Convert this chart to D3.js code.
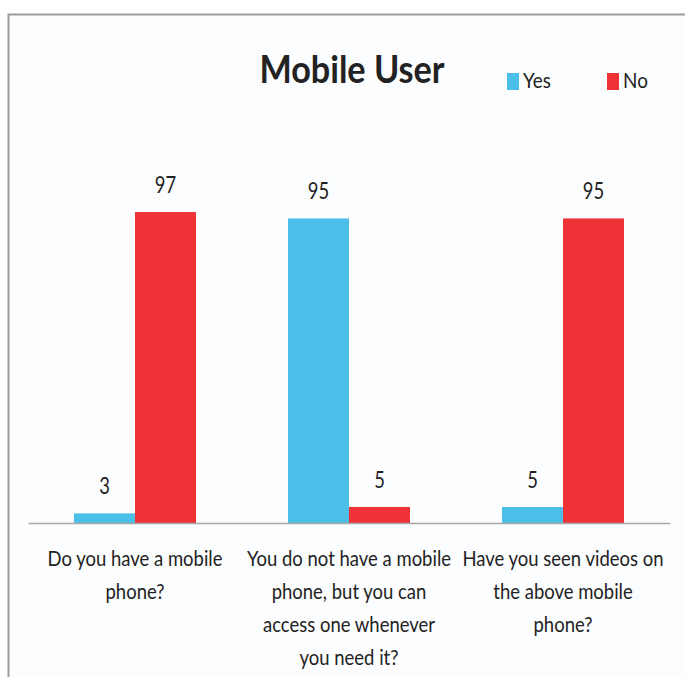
<!DOCTYPE html>
<html>
<head>
<meta charset="utf-8">
<script src="https://cdn.jsdelivr.net/npm/d3@7"></script>
<style>
    body { margin: 0; background: #ffffff; }
    svg { display: block; }
    text { font-family: Lato, "Open Sans", sans-serif; fill: #222222; }
</style>
</head>
<body>
<svg></svg>
<script>
var categories = ["q1", "q2", "q3"]
var categoryLines = [
    ["Do you have a mobile", "phone?"],
    ["You do not have a mobile", "phone, but you can", "access one whenever", "you need it?"],
    ["Have you seen videos on", "the above mobile", "phone?"]
]
var seriesNames = ["Yes", "No"]
var yesValues = [3, 95, 5]
var noValues = [97, 5, 95]
var seriesColors = ["#4bbfe8", "#ee3236"]
var chartTitle = "Mobile User"

var screen = { width: 685, height: 677 }

var svg = d3.select("svg")
    .attr("width", screen.width)
    .attr("height", screen.height)

// chart area with grey frame (right and bottom edges run off the picture)
svg.append("rect")
    .attr("x", 8.5)
    .attr("y", 14.5)
    .attr("width", 700)
    .attr("height", 700)
    .attr("fill", "#fcfdfe")
    .attr("stroke", "#9c9c9c")
    .attr("stroke-width", 2)

//text is squeezed sideways a bit, the source picture looks stretched
var makeText = function (parent, str, x, y, size, weight, anchor, squeeze) {
    return parent.append("text")
        .text(str)
        .attr("text-anchor", anchor || "middle")
        .attr("font-size", size)
        .attr("font-weight", weight || "normal")
        .attr("transform", "translate(" + x + "," + y + ") scale(" + (squeeze || 0.9) + ",1)")
}

var xScale = d3.scaleBand()
    .domain(categories)
    .range([28, 670])

var xInner = d3.scaleBand()
    .domain(seriesNames)
    .range([0, xScale.bandwidth()])
    .paddingOuter(0.754)

var yScale = d3.scaleLinear()
    .domain([0, 100])
    .range([523, 202.4])

var rows = categories.map(function (c, i) {
    return [
        { cat: c, series: "Yes", value: yesValues[i] },
        { cat: c, series: "No", value: noValues[i] }
    ]
})

var bars = svg.append("g")
var groups = bars.selectAll("g")
    .data(rows)
    .enter()
    .append("g")
    .attr("transform", function (d, i) {
        return "translate(" + xScale(categories[i]) + ",0)"
    })

groups.selectAll("rect")
    .data(function (d) { return d })
    .enter()
    .append("rect")
    .attr("x", function (d) { return xInner(d.series) })
    .attr("y", function (d) { return yScale(d.value) })
    .attr("width", xInner.bandwidth())
    .attr("height", function (d) { return yScale(0) - yScale(d.value) })
    .attr("fill", function (d) { return seriesColors[seriesNames.indexOf(d.series)] })

groups.each(function (d) {
    var g = d3.select(this)
    d.forEach(function (bar) {
        makeText(g, bar.value, xInner(bar.series) + xInner.bandwidth() / 2, yScale(bar.value) - 19, 23, "normal", "middle", 0.8)
    })
})

// baseline axis
var xAxis = d3.axisBottom(xScale).tickSize(0).tickFormat("")
var axisG = svg.append("g")
    .attr("transform", "translate(0," + yScale(0) + ")")
    .call(xAxis)
axisG.select(".domain").attr("stroke", "#a8a8a8").attr("stroke-width", 1.5)

// category labels
categories.forEach(function (c, i) {
    var cx = xScale(c) + xScale.bandwidth() / 2
    categoryLines[i].forEach(function (line, j) {
        makeText(svg, line, cx, 566 + j * 33, 21, "normal", "middle", 0.88)
    })
})

// title
makeText(svg, chartTitle, 352, 83, 38, "bold")

// legend
var legendX = [507, 607]
seriesNames.forEach(function (name, i) {
    svg.append("rect")
        .attr("x", legendX[i])
        .attr("y", 73)
        .attr("width", 12)
        .attr("height", 17)
        .attr("fill", seriesColors[i])
    makeText(svg, name, legendX[i] + 16, 88, 21, "normal", "start")
})
</script>
</body>
</html>
